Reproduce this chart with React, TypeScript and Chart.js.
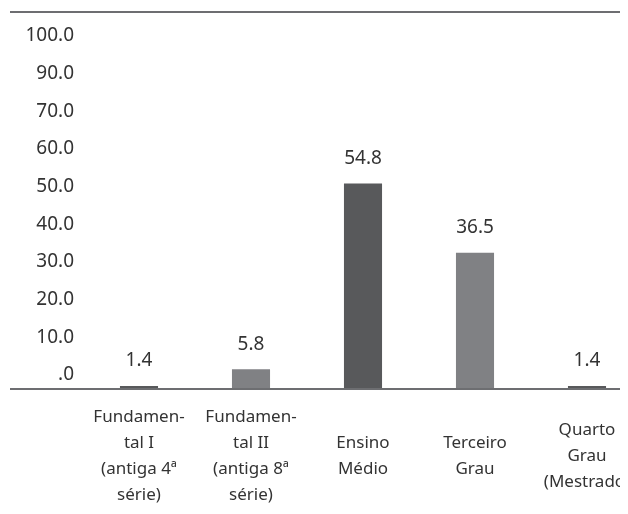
import React, { useEffect, useRef } from "react";
import { Chart, registerables } from "chart.js";

Chart.register(...registerables);

const categories: string[][] = [
  ["Fundamen-", "tal I", "(antiga 4ª", "série)"],
  ["Fundamen-", "tal II", "(antiga 8ª", "série)"],
  ["Ensino", "Médio"],
  ["Terceiro", "Grau"],
  ["Quarto", "Grau", "(Mestrado)"],
];
const values: number[] = [1.4, 5.8, 54.8, 36.5, 1.4];
const barColors: string[] = ["#58595b", "#808184", "#58595b", "#808184", "#58595b"];
// y-axis tick labels, bottom to top, as printed in the reference
const tickLabels: string[] = [".0", "10.0", "20.0", "30.0", "40.0", "50.0", "60.0", "70.0", "90.0", "100.0"];

const FONT = "'Noto Sans', sans-serif";
const TEXT = "#333333";
const LINE = "#6d6e71";

export default function App() {
  const ref = useRef<HTMLCanvasElement>(null);

  useEffect(() => {
    if (!ref.current) return;

    const frameLines = {
      id: "frameLines",
      afterDatasetsDraw(chart: any) {
        const { ctx, chartArea, width } = chart;
        ctx.save();
        ctx.strokeStyle = LINE;
        ctx.lineWidth = 2;
        ctx.beginPath();
        ctx.moveTo(2, chartArea.top);
        ctx.lineTo(width, chartArea.top);
        ctx.moveTo(2, chartArea.bottom);
        ctx.lineTo(width, chartArea.bottom);
        ctx.stroke();
        ctx.restore();
      },
    };

    const valueLabels = {
      id: "valueLabels",
      afterDatasetsDraw(chart: any) {
        const { ctx } = chart;
        const meta = chart.getDatasetMeta(0);
        ctx.save();
        ctx.font = `19px ${FONT}`;
        ctx.fillStyle = TEXT;
        ctx.textAlign = "center";
        ctx.textBaseline = "middle";
        meta.data.forEach((bar: any, i: number) => {
          const v = chart.data.datasets[0].data[i] as number;
          ctx.fillText(v.toFixed(1), bar.x, bar.y - 25);
        });
        ctx.restore();
      },
    };

    const chart = new Chart(ref.current, {
      type: "bar",
      data: {
        labels: categories,
        datasets: [
          {
            data: values,
            backgroundColor: barColors,
            borderWidth: 0,
            categoryPercentage: 1,
            barPercentage: 0.34,
          },
        ],
      },
      options: {
        animation: false,
        responsive: true,
        maintainAspectRatio: false,
        layout: { padding: { top: 4, right: 5, bottom: 0, left: 0 } },
        plugins: {
          legend: { display: false },
          tooltip: { enabled: false },
        },
        scales: {
          x: {
            grid: { display: false, drawTicks: false },
            border: { display: false },
            ticks: {
              font: { family: FONT, size: 17, lineHeight: 26 / 17 },
              color: TEXT,
              padding: 28,
              maxRotation: 0,
              autoSkip: false,
              crossAlign: "center",
            },
            afterFit(scale: any) {
              scale.height = 117;
              scale.paddingLeft = 0;
              scale.paddingRight = 0;
            },
          },
          y: {
            display: false,
            min: 0.6,
            max: 100,
          },
          yl: {
            type: "linear",
            position: "left",
            min: -3.7,
            max: 96.3,
            grid: { display: false, drawTicks: false },
            border: { display: false },
            ticks: {
              font: { family: FONT, size: 19 },
              color: TEXT,
              padding: 9,
              callback: (_v: any, index: number) => tickLabels[index],
            },
            afterBuildTicks(axis: any) {
              axis.ticks = tickLabels.map((_, i) => ({ value: i * 10 }));
            },
            afterFit(scale: any) {
              scale.width = 75;
              scale.paddingTop = 0;
              scale.paddingBottom = 0;
            },
          },
        },
      },
      plugins: [frameLines, valueLabels],
    } as any);

    return () => chart.destroy();
  }, []);

  return (
    <div style={{ width: 620, height: 498, overflow: "hidden" }}>
      <div style={{ width: 640, height: 498, position: "relative" }}>
        <canvas ref={ref} />
      </div>
    </div>
  );
}
